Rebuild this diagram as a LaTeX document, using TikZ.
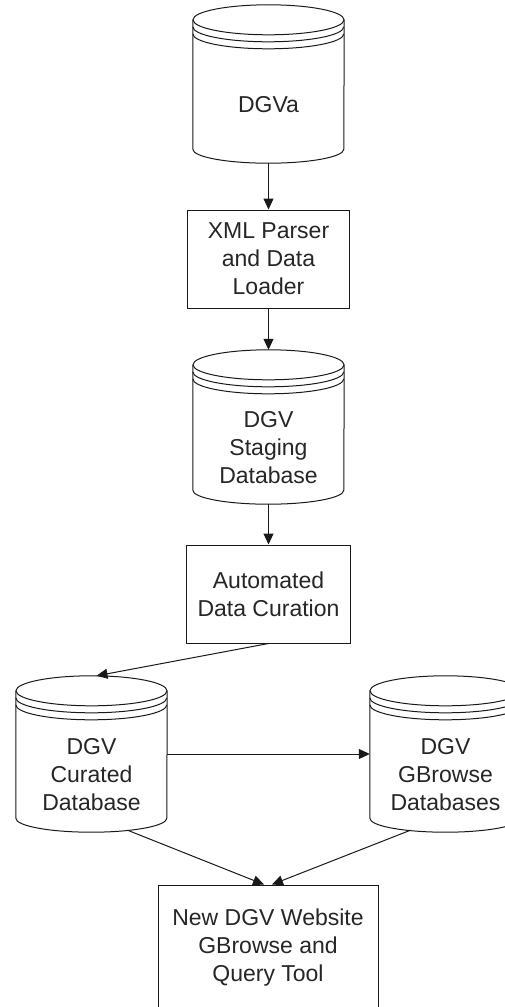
\documentclass[tikz,border=0pt]{standalone}
\usepackage{fontspec}
\setmainfont{Liberation Sans}
\usepackage{tikz}
\usetikzlibrary{arrows.meta,calc}

% database drum: name, centre x, top y, bottom y, text
\newcommand{\dgvdb}[5]{%
	\node[dbbox, minimum height={#4-#3}] (#1) at (#2, {(#3+#4)/2}) {};
	\node[lbl] (#1-txt) at ($(#1)+(0,21)$) {#5};
	\draw[outline] ($(#1.north)+(0,15)$) ellipse [x radius=75.5, y radius=15];
	\draw[outline] ($(#1.north west)+(0,22)$) arc[start angle=180, end angle=0, x radius=75.5, y radius=15];
	\draw[outline] ($(#1.north west)+(0,29)$) arc[start angle=180, end angle=0, x radius=75.5, y radius=15];
	\draw[outline] ($(#1.north west)+(0,15)$) -- ($(#1.south west)+(0,-14)$)
		arc[start angle=180, end angle=0, x radius=75.5, y radius=14] -- ($(#1.north east)+(0,15)$);
}

\begin{document}
\begin{tikzpicture}[x=1pt, y=-1pt,
	outline/.style={draw=black!90, line width=1pt},
	lbl/.style={align=center, inner sep=0, text=black!85, font=\fontsize{23}{28}\selectfont},
	dbbox/.style={rectangle, inner sep=0, minimum width=151},
	procbox/.style={lbl, outline, rectangle},
	flow/.style={outline, -{Triangle[length=11pt, width=10pt]}}]
	\useasboundingbox (0,0) rectangle (505,1007);
	\clip (0,0) rectangle (505,1007);

	\dgvdb{dgva}{268.5}{5}{163}{DGVa}
	\node[procbox, minimum width=162, minimum height=98] (parser) at (268.5, 259) {XML Parser\\and Data\\Loader};
	\dgvdb{staging}{268.5}{350}{504}{DGV\\Staging\\Database}
	\node[procbox, minimum width=164, minimum height=98] (curation) at (268.5, 594) {Automated\\Data Curation};
	\dgvdb{curated}{91.5}{676}{832}{DGV\\Curated\\Database}
	\dgvdb{gbrowse}{445.5}{676}{832}{DGV\\GBrowse\\Databases}
	\node[procbox, minimum width=220, minimum height=125] (website) at (268, 947.5) {New DGV Website\\GBrowse and\\Query Tool};

	\draw[flow] (dgva.south) -- (parser.north);
	\draw[flow] (parser.south) -- (staging.north);
	\draw[flow] (staging.south) -- (curation.north);
	\draw[flow] (curation.south) -- ($(curated.north)+(5,0)$);
	\draw[flow] (curated.east) -- (gbrowse.west);
	\draw[flow] ($(curated.south)+(36,-2)$) -- ($(website.north)+(-4,0)$);
	\draw[flow] ($(gbrowse.south)+(-35,-2)$) -- ($(website.north)+(4,0)$);
\end{tikzpicture}
\end{document}
